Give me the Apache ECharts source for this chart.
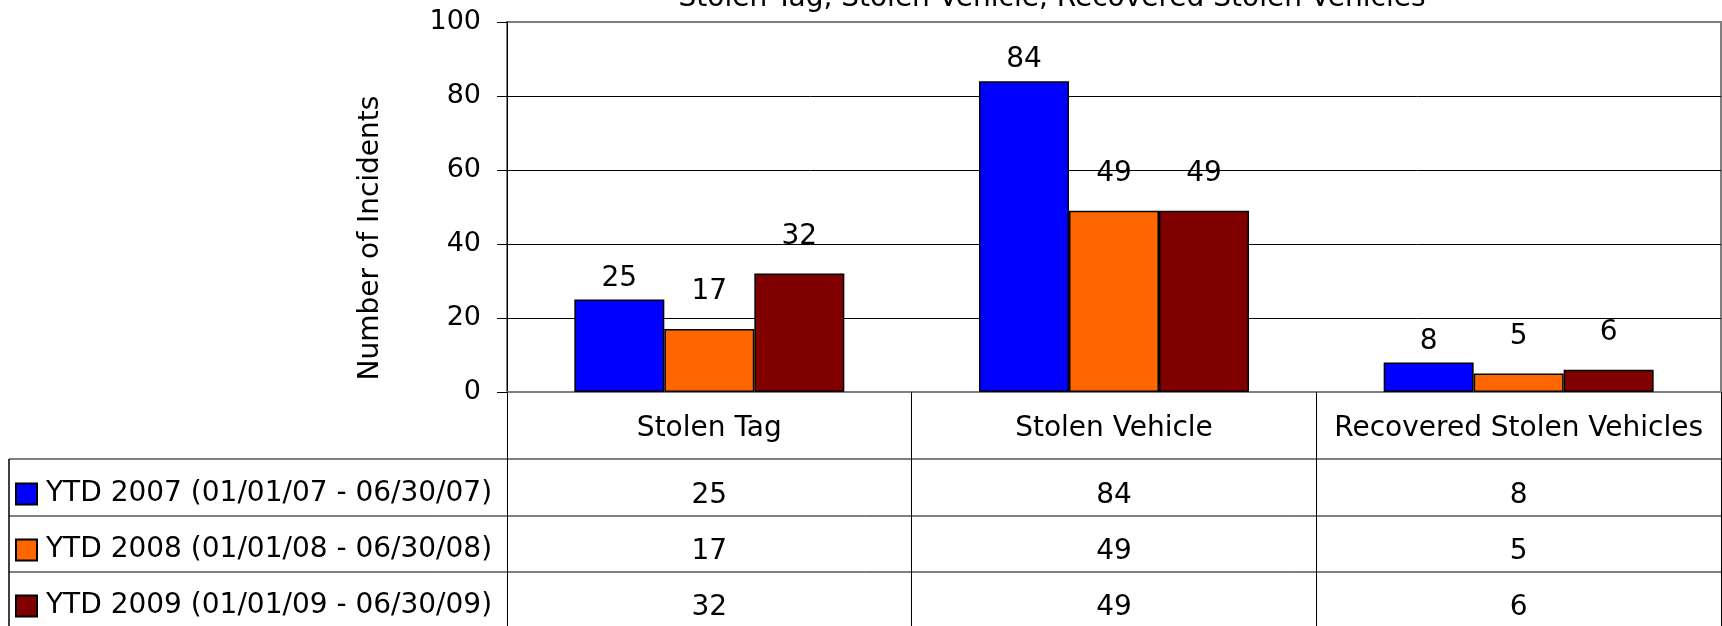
<!DOCTYPE html>
<html>
<head>
<meta charset="utf-8">
<title>Stolen Tag, Stolen Vehicle, Recovered Stolen Vehicles</title>
<script src="https://cdn.jsdelivr.net/npm/echarts@6/dist/echarts.min.js"></script>
<style>
    html, body { margin: 0; padding: 0; background: #fff; }
    #stolen { width: 1722px; height: 626px; }
</style>
</head>
<body>
<div id="stolen"></div>
<script>
var categories = ['Stolen Tag', 'Stolen Vehicle', 'Recovered Stolen Vehicles'];
var seriesNames = [
    'YTD 2007 (01/01/07 - 06/30/07)',
    'YTD 2008 (01/01/08 - 06/30/08)',
    'YTD 2009 (01/01/09 - 06/30/09)'
];
var ytd2007 = [25, 84, 8];
var ytd2008 = [17, 49, 5];
var ytd2009 = [32, 49, 6];
var yTicks = [0, 20, 40, 60, 80, 100];

var colors = ['#0000ff', '#ff6600', '#800000'];
var font = 'DejaVu Sans';

// layout of plot and table below it
var gridLeft = 507, gridTop = 22, axisY = 392;
var rowLines = [459, 516, 572, 626];
var tableLeft = 9;

function getChart(id){
    var dom = document.getElementById(id);
    return echarts.init(dom);
}

(function() {
    "use strict";

    var stolen = getChart("stolen");
    var allRows = [ytd2007, ytd2008, ytd2009];
    var labelDist = [7, 23, 23];

    // one extra x axis per table row, its labels print the values
    var rowAxes = allRows.map(function(vals, k) {
        return {
            type: 'category',
            data: categories,
            gridIndex: 0,
            position: 'bottom',
            offset: 104 + k * 56,
            axisLine: {show: false},
            axisTick: {show: false},
            axisLabel: {
                interval: 0,
                margin: 0,
                verticalAlign: 'middle',
                fontFamily: font,
                fontSize: 28,
                color: '#000',
                formatter: function(value, idx) { return String(vals[idx]); }
            }
        };
    });

    var tableLines = [];
    rowLines.slice(0, 3).forEach(function(y, i) {
        tableLines.push({
            type: 'line',
            shape: {x1: tableLeft, y1: y, x2: 1722, y2: y},
            style: {stroke: i === 0 ? '#808080' : '#000', lineWidth: i === 0 ? 2 : 1}
        });
    });
    tableLines.push({
        type: 'line',
        shape: {x1: tableLeft, y1: rowLines[0], x2: tableLeft, y2: 626},
        style: {stroke: '#000', lineWidth: 1.5}
    });
    tableLines.push({
        type: 'text',
        x: 371,
        y: 238,
        rotation: Math.PI / 2,
        style: {
            text: 'Number of Incidents',
            fontFamily: font,
            fontSize: 28,
            fill: '#000',
            align: 'center',
            verticalAlign: 'middle'
        }
    });

    var option = {
        backgroundColor: '#fff',
        animation: false,
        title: {
            text: 'Stolen Tag, Stolen Vehicle, Recovered Stolen Vehicles',
            left: 1052,
            top: -15,
            textAlign: 'center',
            padding: 0,
            textStyle: {
                fontFamily: font,
                fontSize: 28,
                fontWeight: 'normal',
                color: '#000'
            }
        },
        legend: {
            orient: 'vertical',
            left: 15,
            top: 477,
            padding: 0,
            itemGap: 22,
            itemWidth: 21,
            itemHeight: 21,
            icon: 'rect',
            data: seriesNames,
            textStyle: {
                fontFamily: font,
                fontSize: 28,
                lineHeight: 28,
                color: '#000',
                padding: [6, 0, 0, 4]
            }
        },
        grid: {
            left: gridLeft,
            top: gridTop,
            right: 1,
            bottom: 626 - axisY,
            show: true,
            borderColor: '#808080',
            borderWidth: 2,
            outerBoundsMode: 'none'
        },
        xAxis: [{
            type: 'category',
            data: categories,
            axisLine: {lineStyle: {color: '#808080', width: 2}},
            axisTick: {
                show: true,
                interval: 0,
                alignWithLabel: false,
                length: 626 - axisY,
                lineStyle: {color: '#000', width: 1}
            },
            axisLabel: {
                interval: 0,
                margin: 37,
                verticalAlign: 'middle',
                fontFamily: font,
                fontSize: 28,
                color: '#000'
            }
        }].concat(rowAxes),
        yAxis: {
            type: 'value',
            min: yTicks[0],
            max: yTicks[yTicks.length - 1],
            interval: 20,
            axisLine: {show: true, lineStyle: {color: '#000', width: 1}},
            axisTick: {show: true, length: 10, lineStyle: {color: '#000'}},
            axisLabel: {
                margin: 26,
                fontFamily: font,
                fontSize: 27,
                color: '#000'
            },
            splitLine: {
                show: true,
                showMinLine: false,
                showMaxLine: false,
                lineStyle: {color: '#000', width: 1}
            }
        },
        graphic: tableLines,
        series: allRows.map(function(vals, k) {
            return {
                name: seriesNames[k],
                type: 'bar',
                xAxisIndex: 0,
                barWidth: 90,
                barGap: '0%',
                itemStyle: {
                    color: colors[k],
                    borderColor: '#000',
                    borderWidth: 1.5
                },
                label: {
                    show: true,
                    position: 'top',
                    distance: labelDist[k],
                    fontFamily: font,
                    fontSize: 28,
                    color: '#000'
                },
                data: vals
            };
        })
    };

    if (option && typeof option === "object") {
        stolen.setOption(option, true);
    }
})();
</script>
</body>
</html>
